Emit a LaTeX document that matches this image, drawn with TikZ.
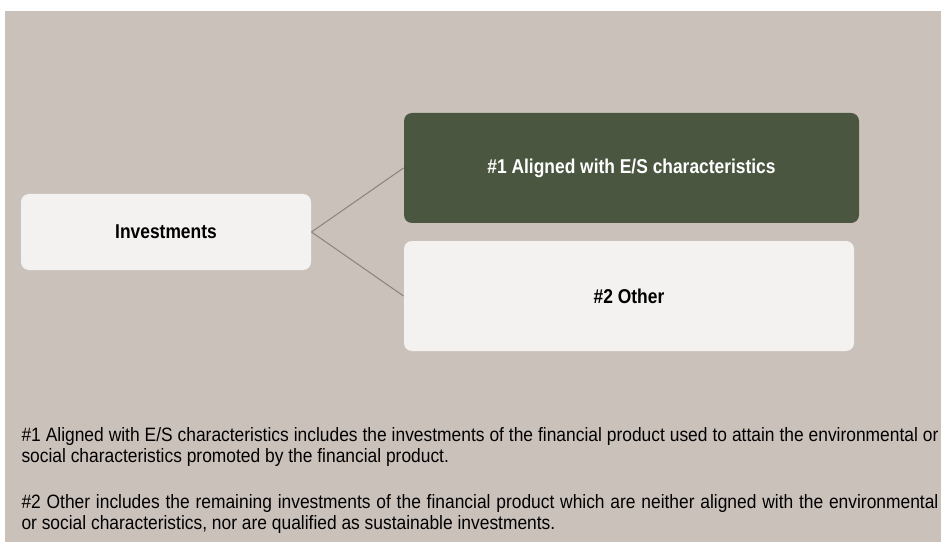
\documentclass[tikz,border=0pt]{standalone}
\usepackage{fontspec}
\setmainfont{Liberation Sans}[FakeStretch=0.87]
\newfontfamily\notefont{Liberation Sans}[FakeStretch=0.9]
\usepackage{tikz}

\definecolor{bgbeige}{HTML}{CBC1BB}
\definecolor{esgreen}{HTML}{4A5640}
\definecolor{boxwhite}{HTML}{F3F2F0}
\definecolor{linkgray}{HTML}{8C8276}

\tikzset{
  box/.style = {rectangle, rounded corners = 6pt, inner sep = 0pt, font = \fontsize{15}{18}\selectfont\bfseries},
  note/.style = {anchor = base west, align = justify, text width = 917*.75pt, inner sep = 0pt, font = \notefont\fontsize{14.5}{16.2}\selectfont}
}

\begin{document}
\begin{tikzpicture}[x = .75pt, y = -.75pt, line width = .75pt]
\useasboundingbox (0,0) rectangle (941,545);
\fill[bgbeige] (5,11) rectangle (941,542);
\draw (166,232) node[box, fill = boxwhite, minimum width = 290*.75pt, minimum height = 76*.75pt](inv){Investments}
    (631.5,168) node[box, fill = esgreen, text = white, minimum width = 455*.75pt, minimum height = 110*.75pt](ali){\#1 Aligned with E/S characteristics}
    (629,296) node[box, fill = boxwhite, minimum width = 450*.75pt, minimum height = 110*.75pt](oth){\#2 Other};
    \draw [-, linkgray] (inv.east) -- (ali.west);
    \draw [-, linkgray] (inv.east) -- (oth.west);
\node[note](n1) at (21,441) {\#1 Aligned with E/S characteristics includes the investments of the financial product used to attain the environmental or\linebreak social characteristics promoted by the financial product.};
\node[note](n2) at (21,508) {\#2 Other includes the remaining investments of the financial product which are neither aligned with the environmental\linebreak or social characteristics, nor are qualified as sustainable investments.};
\end{tikzpicture}
\end{document}
